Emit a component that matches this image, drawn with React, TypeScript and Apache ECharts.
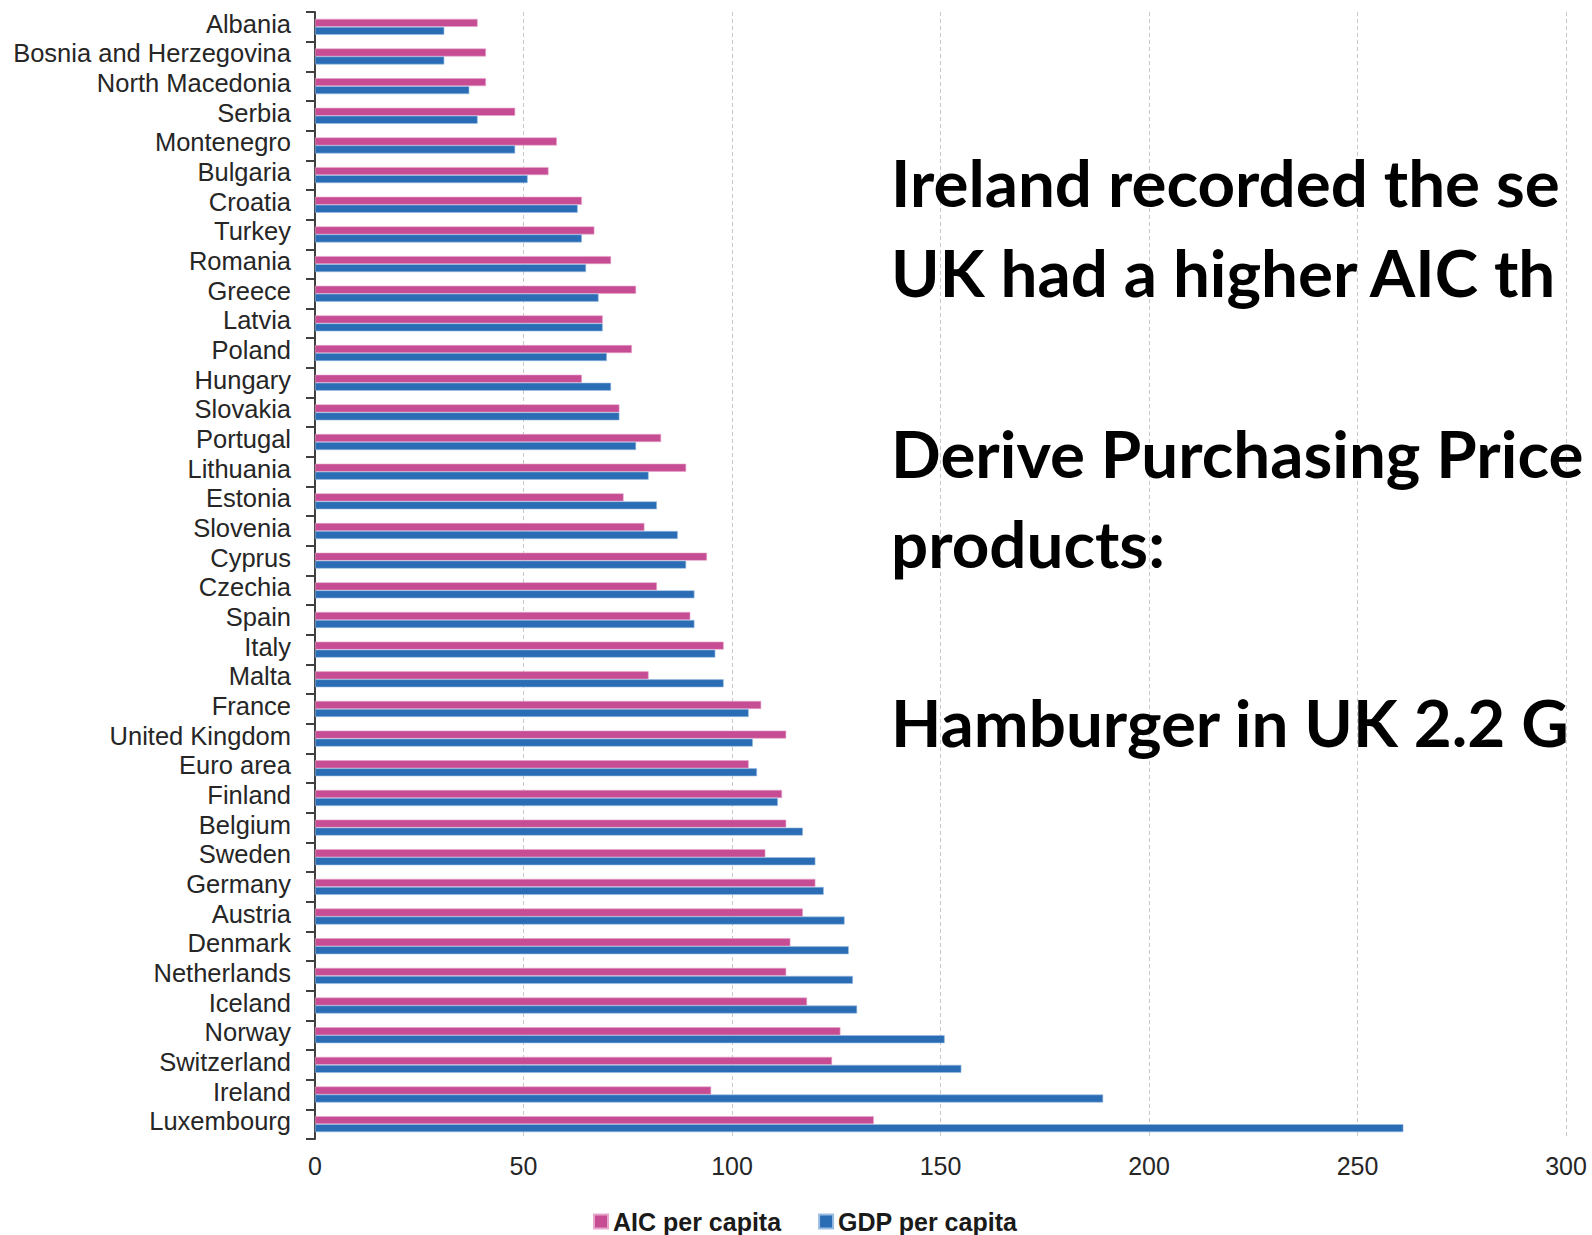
import React, { useEffect, useRef } from "react";
import * as echarts from "echarts";

const countries = [
  "Albania", "Bosnia and Herzegovina", "North Macedonia", "Serbia", "Montenegro",
  "Bulgaria", "Croatia", "Turkey", "Romania", "Greece", "Latvia", "Poland",
  "Hungary", "Slovakia", "Portugal", "Lithuania", "Estonia", "Slovenia", "Cyprus",
  "Czechia", "Spain", "Italy", "Malta", "France", "United Kingdom", "Euro area",
  "Finland", "Belgium", "Sweden", "Germany", "Austria", "Denmark", "Netherlands",
  "Iceland", "Norway", "Switzerland", "Ireland", "Luxembourg",
];

const aicPerCapita = [
  39, 41, 41, 48, 58, 56, 64, 67, 71, 77, 69, 76, 64, 73, 83, 89, 74, 79, 94,
  82, 90, 98, 80, 107, 113, 104, 112, 113, 108, 120, 117, 114, 113, 118, 126,
  124, 95, 134,
];

const gdpPerCapita = [
  31, 31, 37, 39, 48, 51, 63, 64, 65, 68, 69, 70, 71, 73, 77, 80, 82, 87, 89,
  91, 91, 96, 98, 104, 105, 106, 111, 117, 120, 122, 127, 128, 129, 130, 151,
  155, 189, 261,
];

const xTicks = { min: 0, max: 300, interval: 50 };

const seriesNames = ["AIC per capita", "GDP per capita"];

// Text visible in the reference (it runs off the right edge there)
const noteLines = [
  "Ireland recorded the se",
  "UK had a higher AIC th",
  "Derive Purchasing Price",
  "products:",
  "Hamburger in UK 2.2 G",
];
const noteY = [181, 271, 452, 542, 721];

const PINK = "#C64C93";
const BLUE = "#2A6DB5";

export default function App() {
  const ref = useRef<HTMLDivElement>(null);
  useEffect(() => {
    if (!ref.current) return;
    const chart = echarts.init(ref.current, null, { renderer: "svg" });
    const labelFont = "'Liberation Sans', Arial, sans-serif";
    chart.setOption({
      animation: false,
      backgroundColor: "#ffffff",
      grid: { left: 315, right: 26, top: 12, bottom: 96, containLabel: false },
      legend: {
        data: seriesNames,
        left: 588,
        top: 1204,
        icon: "rect",
        itemWidth: 14,
        itemHeight: 14,
        itemGap: 37,
        textStyle: {
          fontFamily: labelFont,
          fontWeight: "bold",
          fontSize: 25,
          color: "#1a1a1a",
        },
      },
      xAxis: {
        type: "value",
        min: xTicks.min,
        max: xTicks.max,
        interval: xTicks.interval,
        axisLine: { show: false },
        axisTick: { show: false },
        axisLabel: {
          margin: 14,
          fontFamily: labelFont,
          fontSize: 25,
          color: "#262626",
        },
        splitLine: {
          show: true,
          lineStyle: { color: "#c8c8c8", type: [4, 3], width: 1 },
        },
      },
      yAxis: {
        type: "category",
        data: countries,
        inverse: true,
        axisLine: { show: true, lineStyle: { color: "#404040", width: 2 } },
        axisTick: {
          show: true,
          length: 9,
          lineStyle: { color: "#404040", width: 2 },
        },
        axisLabel: {
          interval: 0,
          margin: 24,
          verticalAlign: "bottom",
          lineHeight: 6,
          fontFamily: labelFont,
          fontSize: 25.5,
          color: "#262626",
        },
        splitLine: { show: false },
      },
      series: [
        {
          name: seriesNames[0],
          type: "bar",
          data: aicPerCapita,
          barWidth: 8,
          barGap: "0%",
          itemStyle: { color: PINK, borderColor: "#E7A6CB", borderWidth: 0.6 },
        },
        {
          name: seriesNames[1],
          type: "bar",
          data: gdpPerCapita,
          barWidth: 8,
          barGap: "0%",
          itemStyle: { color: BLUE, borderColor: "#9CBDE3", borderWidth: 0.6 },
        },
      ],
      graphic: noteLines.map((t, i) => ({
        type: "text",
        x: 891,
        y: noteY[i],
        z: 100,
        style: {
          text: t,
          font: "bold 65.5px Lato, 'Open Sans', sans-serif",
          fill: "#000000",
          verticalAlign: "middle",
          align: "left",
        },
      })),
    });
    return () => chart.dispose();
  }, []);
  return (
    <div
      ref={ref}
      style={{
        position: "fixed",
        left: 0,
        top: 0,
        width: 1592,
        height: 1235,
        background: "#ffffff",
      }}
    />
  );
}
